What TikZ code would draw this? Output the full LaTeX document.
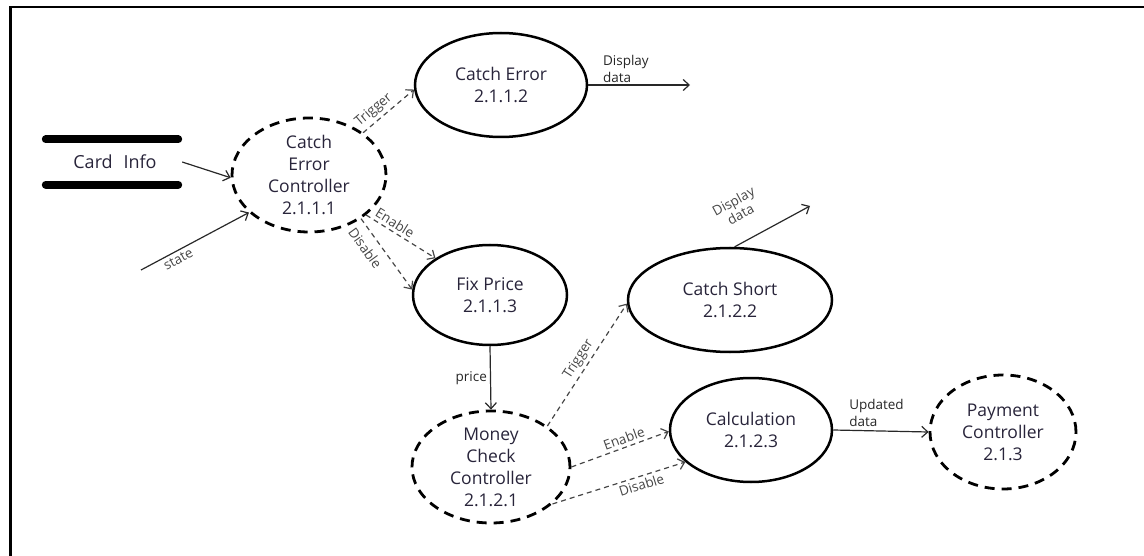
\documentclass[tikz,border=0pt]{standalone}
\usepackage{fontspec}
\setmainfont{Open Sans}
\usetikzlibrary{shapes.geometric,arrows.meta}
\definecolor{txt}{RGB}{40,36,58}
\definecolor{lbl}{RGB}{70,70,70}
\definecolor{lnk}{RGB}{40,40,40}
\begin{document}
\begin{tikzpicture}[x=1pt,y=-1pt,
  ntext/.style={align=center,font=\fontsize{17.5}{22}\selectfont,text=txt,inner sep=0pt},
  proc/.style={ellipse,draw,line width=2.5pt,inner sep=0pt},
  ctrl/.style={proc,line width=2.8pt,dash pattern=on 10pt off 7pt},
  flow/.style={-{Straight Barb[length=6pt,width=11pt]},line width=1.2pt,draw=lnk},
  ctl/.style={flow,draw=lbl,dash pattern=on 5pt off 4pt},
  lab/.style={font=\fontsize{13.5}{17}\selectfont,text=lbl,inner sep=3pt},
  hlab/.style={lab,text=black!85,align=left}]
\useasboundingbox (0,0) rectangle (1144,556);
% frame (top and left edges)
\draw[line width=2.5pt] (10.5,556) -- (10.5,7) -- (1144,7);

% data store
\node[font=\fontsize{18}{22}\selectfont,text=txt,minimum width=140pt,minimum height=45pt,inner sep=0pt] (card) at (112,162) {\hspace{6pt}Card\hspace{0.6em}Info};
\draw[line width=8pt,line cap=round] ([xshift=4pt]card.north west) -- ([xshift=-4pt]card.north east);
\draw[line width=8pt,line cap=round] ([xshift=4pt]card.south west) -- ([xshift=-4pt]card.south east);

% processes
\node[ctrl,minimum width=154pt,minimum height=114pt,label={[ntext]center:Catch\\Error\\Controller\\2.1.1.1}] (cec) at (309,175) {};
\node[proc,minimum width=172pt,minimum height=104pt,label={[ntext]center:Catch Error\\2.1.1.2}] (ce) at (501,85) {};
\node[proc,minimum width=154pt,minimum height=100pt,label={[ntext]center:Fix Price\\2.1.1.3}] (fp) at (490,295) {};
\node[ctrl,minimum width=158pt,minimum height=112pt,label={[ntext]center:Money\\Check\\Controller\\2.1.2.1}] (mcc) at (491,467) {};
\node[proc,minimum width=204pt,minimum height=104pt,label={[ntext]center:Catch Short\\2.1.2.2}] (cs) at (730,300) {};
\node[proc,minimum width=162pt,minimum height=104pt,label={[ntext]center:Calculation\\2.1.2.3}] (calc) at (751,430) {};
\node[ctrl,minimum width=146pt,minimum height=114pt,label={[ntext]center:Payment\\Controller\\2.1.3}] (pc) at (1003,432) {};

% free ends
\coordinate (st) at (141,270);
\coordinate (d1) at (690,85);
\coordinate (d2) at (810,206);

% connectors
\draw[flow] (card.east) -- (cec.182);
\draw[flow] (st) -- (cec.212) node[lab,pos=.31,below,sloped] {state};
\draw[ctl] (cec.38) -- (ce.183) node[lab,pos=.34,above,sloped] {Trigger};
\draw[ctl] (cec.-35) -- (fp.146) node[lab,pos=.35,above,sloped] {Enable};
\draw[ctl] (cec.-40) -- (fp.176) node[lab,pos=.3,below=5pt,sloped] {Disable};
\draw[flow] (ce.east) -- (d1) node[hlab,pos=.12,anchor=south west,inner sep=2pt] {Display\\data};
\draw[flow] (fp.south) -- (mcc.north) node[hlab,midway,left] {price};
\draw[ctl] (mcc.36) -- (cs.182) node[lab,midway,above,sloped] {Trigger};
\draw[ctl] (mcc.0) -- (calc.181) node[lab,pos=.57,above,sloped] {Enable};
\draw[ctl] (mcc.-31.5) -- (calc.206) node[lab,pos=.65,below,sloped] {Disable};
\draw[flow] (cs.85) -- (d2) node[lab,pos=.24,above=17pt,sloped,align=center,font=\fontsize{13.5}{15}\selectfont] {Display\\data};
\draw[flow] (calc.east) -- (pc.west) node[hlab,pos=.13,anchor=south west,inner sep=3pt] {Updated\\data};
\end{tikzpicture}
\end{document}
